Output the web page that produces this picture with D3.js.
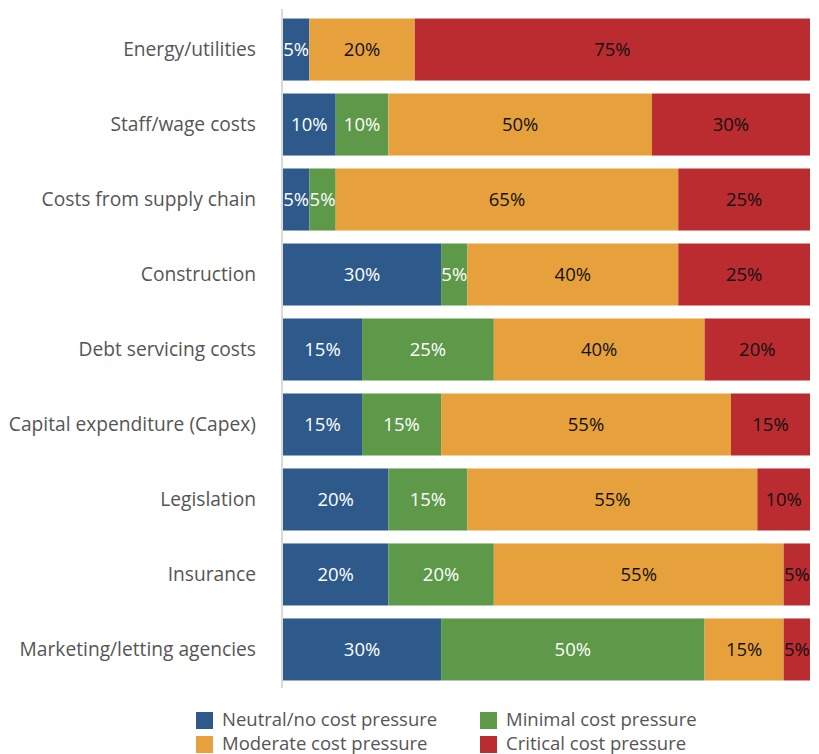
<!DOCTYPE html>
<html>
<head>
<meta charset="utf-8">
<script src="https://cdn.jsdelivr.net/npm/d3@7"></script>
<style>
  body { margin: 0; background: #fff; }
  text { font-family: "Open Sans", sans-serif; }
</style>
</head>
<body>
<div id="chart"></div>
<script>
let width = 819,
    height = 754;

let categories = ["Energy/utilities", "Staff/wage costs", "Costs from supply chain", "Construction",
    "Debt servicing costs", "Capital expenditure (Capex)", "Legislation", "Insurance", "Marketing/letting agencies"];

let seriesNames = ["Neutral/no cost pressure", "Minimal cost pressure", "Moderate cost pressure", "Critical cost pressure"];

let neutral  = [5, 10, 5, 30, 15, 15, 20, 20, 30];
let minimal  = [0, 10, 5, 5, 25, 15, 15, 20, 50];
let moderate = [20, 50, 65, 40, 40, 55, 55, 55, 15];
let critical = [75, 30, 25, 25, 20, 15, 10, 5, 5];

let colors = ["#2e5a8b", "#5e9849", "#e7a13c", "#bb2c31"];
let labelColors = ["#ffffff", "#ffffff", "#111111", "#111111"];

let table = categories.map(function (c, i) {
    return {cat: c, s0: neutral[i], s1: minimal[i], s2: moderate[i], s3: critical[i]};
});

let stack = d3.stack().keys(["s0", "s1", "s2", "s3"]);
let layers = stack(table);

let x = d3.scaleLinear()
    .domain([0, 100])
    .range([283, 810]);

let y = d3.scaleBand()
    .domain(categories)
    .range([12, 687])
    .paddingInner(0.173)
    .paddingOuter(0.087);

let svg = d3.select("#chart").append("svg")
    .attr("width", width)
    .attr("height", height);

// bars
let groups = svg.selectAll(".layer")
    .data(layers)
    .enter().append("g")
    .attr("class", "layer")
    .attr("fill", function (d, i) { return colors[i]; });

groups.selectAll("rect")
    .data(function (d) { return d; })
    .enter().append("rect")
    .attr("x", function (d) { return x(d[0]); })
    .attr("width", function (d) { return x(d[1]) - x(d[0]); })
    .attr("y", function (d) { return y(d.data.cat); })
    .attr("height", y.bandwidth());

// value labels
layers.forEach(function (layer, li) {
    svg.append("g").selectAll("text")
        .data(layer.filter(function (d) { return d[1] - d[0] > 0; }))
        .enter().append("text")
        .attr("x", function (d) { return (x(d[0]) + x(d[1])) / 2; })
        .attr("y", function (d) { return y(d.data.cat) + y.bandwidth() / 2; })
        .attr("dy", "0.35em")
        .attr("text-anchor", "middle")
        .attr("font-size", 18.5)
        .attr("fill", labelColors[li])
        .text(function (d) { return (d[1] - d[0]) + "%"; });
});

// category axis
let yAxis = d3.axisLeft(y).tickSize(0).tickPadding(26);
let ax = svg.append("g")
    .attr("transform", "translate(282,0)")
    .call(yAxis);
ax.select(".domain").remove();
ax.selectAll("text")
    .attr("font-size", 19.2)
    .attr("fill", "#555555")
    .style("font-family", "Open Sans, sans-serif");

svg.append("line")
    .attr("x1", 282).attr("x2", 282)
    .attr("y1", 9).attr("y2", 688)
    .attr("stroke", "#d9d9d9")
    .attr("stroke-width", 2);

// legend
let legendPos = [[196, 712], [480, 712], [196, 736], [480, 736]];
let legend = svg.selectAll(".legend")
    .data(seriesNames)
    .enter().append("g")
    .attr("class", "legend")
    .attr("transform", function (d, i) { return "translate(" + legendPos[i][0] + "," + legendPos[i][1] + ")"; });

legend.append("rect")
    .attr("width", 17)
    .attr("height", 17)
    .attr("fill", function (d, i) { return colors[i]; });

legend.append("text")
    .attr("x", 26)
    .attr("y", 14)
    .attr("font-size", 18.5)
    .attr("fill", "#555555")
    .text(function (d) { return d; });
</script>
</body>
</html>
